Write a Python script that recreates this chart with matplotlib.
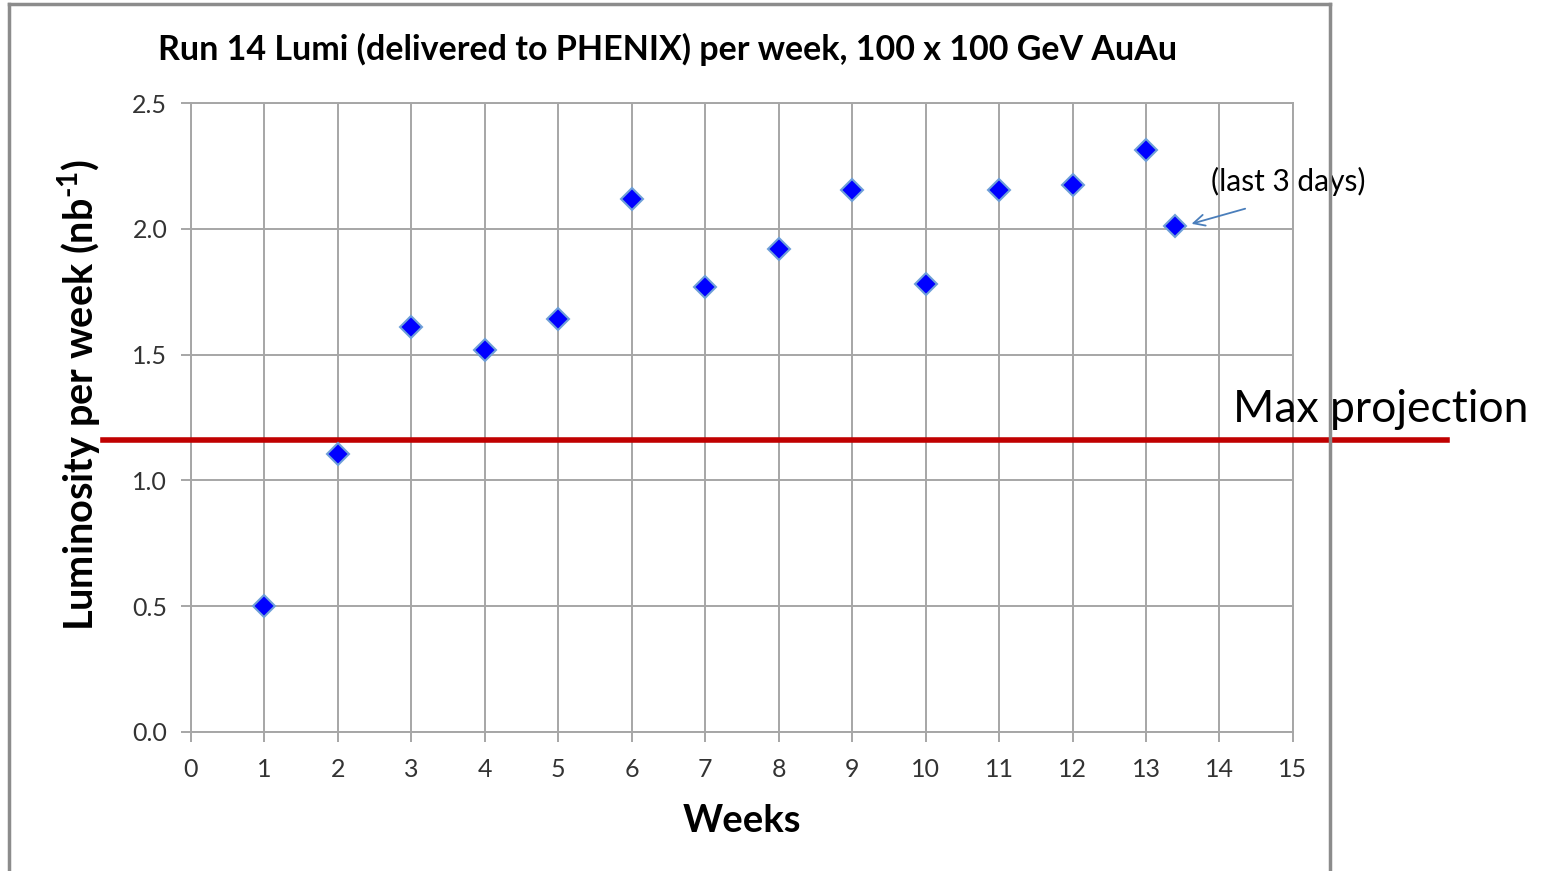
import numpy as np
import matplotlib as mpl
mpl.use("Agg")
import matplotlib.pyplot as plt
from matplotlib.lines import Line2D

plt.rcParams['font.family'] = ['Lato', 'DejaVu Sans']
# only the y label uses mathtext (for the superscript), keep it bold Lato
plt.rcParams['mathtext.fontset'] = 'custom'
plt.rcParams['mathtext.rm'] = 'Lato:bold'
plt.rcParams['mathtext.bf'] = 'Lato:bold'

# weekly delivered luminosity (nb^-1), last point = partial week
weeks = [1, 2, 3, 4, 5, 6, 7, 8, 9, 10, 11, 12, 13, 13.4]
lumi = [0.50, 1.105, 1.61, 1.52, 1.64, 2.12, 1.77, 1.92, 2.155, 1.78, 2.155, 2.175, 2.315, 2.01]
max_projection = 1.16
x_ticks = list(range(0, 16))
y_ticks = [0.0, 0.5, 1.0, 1.5, 2.0, 2.5]

fig = plt.figure(figsize=(15.46, 8.71), dpi=100)
ax = fig.add_axes([0.1235, 0.1596, 0.7128, 0.7221])

grid_col = '#A6A6A6'
ax.set_xlim(0, 15)
ax.set_ylim(0, 2.5)
ax.set_xticks(x_ticks)
ax.set_yticks(y_ticks)
ax.set_yticklabels(["%.1f" % v for v in y_ticks])
ax.grid(True, color=grid_col, linewidth=1.4)
ax.set_axisbelow(True)
for s in ax.spines.values():
    s.set_color(grid_col)
    s.set_linewidth(1.4)
ax.tick_params(direction='out', length=7, width=1.4, color=grid_col,
               labelsize=18, labelcolor='#333333')
ax.tick_params(axis='y', pad=10)
ax.tick_params(axis='x', pad=12)

ax.plot(weeks, lumi, linestyle='none', marker='D', markersize=11,
        markerfacecolor='#0000FF', markeredgecolor='#6F9FD8', markeredgewidth=1.5,
        zorder=5)

# max projection line, runs past the plot area on both sides
ax.plot([-1.2, 17.1], [max_projection, max_projection], color='#C00000',
        linewidth=4, clip_on=False, zorder=4)
ax.text(14.18, 1.28, "Max projection", fontsize=32,
        ha='left', va='center', clip_on=False)

ax.text(13.88, 2.19, "(last 3 days)", fontsize=21.5, ha='left', va='center')
ax.annotate("", xy=(13.62, 2.02), xytext=(14.35, 2.08),
            arrowprops=dict(arrowstyle='->', color='#4A7EBB', lw=1.3,
                            mutation_scale=20, shrinkA=0, shrinkB=0))

fig.text(0.432, 0.943, "Run 14 Lumi (delivered to PHENIX) per week, 100 x 100 GeV AuAu",
         fontsize=24.5, fontweight='bold', ha='center', va='center')
ax.set_xlabel("Weeks", fontsize=27.5, fontweight='bold', labelpad=16)
ax.set_ylabel("Luminosity per week (nb$^{\\text{-1}}$)", fontsize=28.5,
              fontweight='bold', va='center')
ax.yaxis.set_label_coords(-0.101, 0.536)

# outer chart frame
frame_col = '#8C8C8C'
fig.add_artist(Line2D([0.0055, 0.0055], [0.0, 0.9955], transform=fig.transFigure,
                      color=frame_col, linewidth=2.5))
fig.add_artist(Line2D([0.0055, 0.8603], [0.9955, 0.9955], transform=fig.transFigure,
                      color=frame_col, linewidth=2.5))
fig.add_artist(Line2D([0.8603, 0.8603], [0.0, 0.9955], transform=fig.transFigure,
                      color=frame_col, linewidth=2.5))

fig.savefig("out.png", dpi=100, facecolor='white')
